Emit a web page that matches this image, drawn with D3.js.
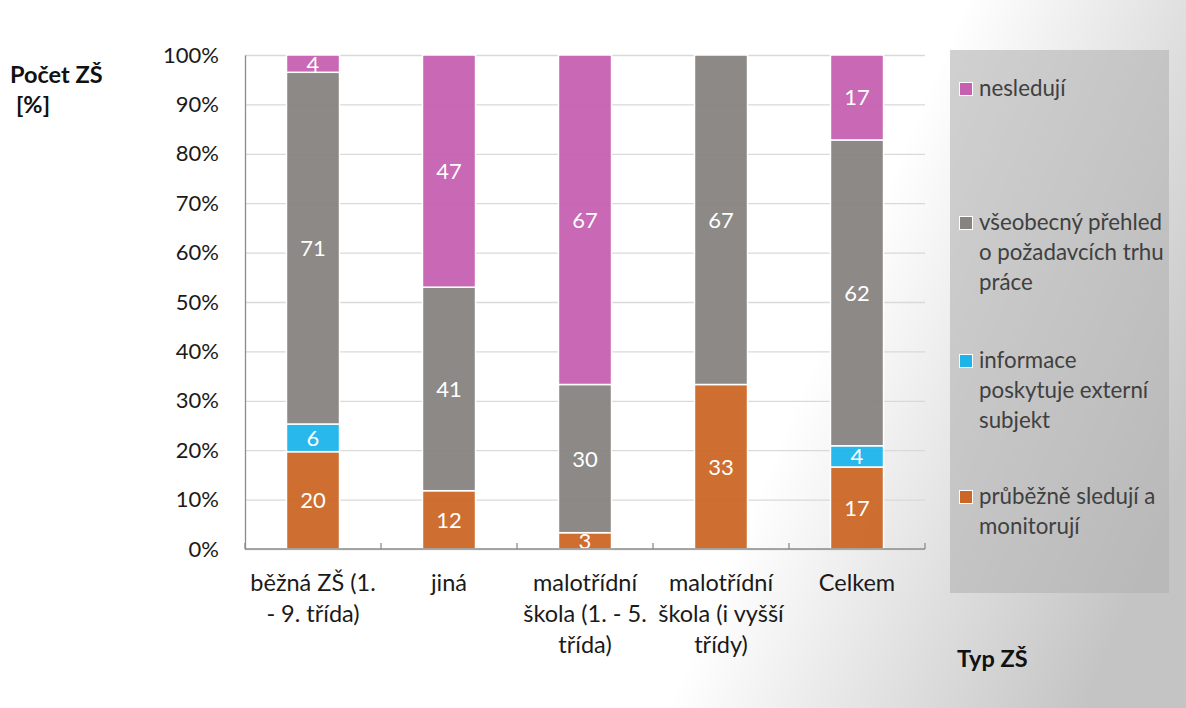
<!DOCTYPE html>
<html>
<head>
<meta charset="utf-8">
<script src="https://cdn.jsdelivr.net/npm/d3@7"></script>
<style>
  body { margin: 0; }
  svg { font-family: Lato, "Open Sans", sans-serif; }
</style>
</head>
<body>
<div id="chart-area"></div>
<script>
// categories (x axis), each label split on lines
const categories = [
    ["běžná ZŠ (1.", "- 9. třída)"],
    ["jiná"],
    ["malotřídní", "škola (1. - 5.", "třída)"],
    ["malotřídní", "škola (i vyšší", "třídy)"],
    ["Celkem"]
];
// series values in percent, one per category
const monitoruji = [19.7, 11.8, 3.3, 33.3, 16.6];
const externi = [5.6, 0, 0, 0, 4.3];
const prehled = [71.2, 41.2, 30.0, 66.7, 61.9];
const nesleduji = [3.5, 47.0, 66.7, 0, 17.2];
const legendLines = [
    ["nesledují"],
    ["všeobecný přehled", "o požadavcích trhu", "práce"],
    ["informace", "poskytuje externí", "subjekt"],
    ["průběžně sledují a", "monitorují"]
];
const yTicks = [0, 10, 20, 30, 40, 50, 60, 70, 80, 90, 100];

const W = 1186, H = 708;
const margin = { left: 245, right: 261, top: 55, bottom: 159 };
const width = W - margin.left - margin.right,
    height = H - margin.top - margin.bottom;

const svg = d3.select("#chart-area").append("svg")
    .attr("width", W).attr("height", H);

// background gradient
const defs = svg.append("defs");
const grad = defs.append("linearGradient").attr("id", "bg")
    .attr("gradientUnits", "userSpaceOnUse")
    .attr("x1", 830).attr("y1", 320).attr("x2", 1186).attr("y2", 470);
grad.append("stop").attr("offset", "0%").attr("stop-color", "#ffffff");
grad.append("stop").attr("offset", "100%").attr("stop-color", "#c4c4c4");
svg.append("rect").attr("width", W).attr("height", H).attr("fill", "url(#bg)");

const g = svg.append("g").attr("transform", `translate(${margin.left},${margin.top})`);

const x = d3.scaleBand().domain(d3.range(categories.length)).range([0, width]).paddingInner(0.61).paddingOuter(0.305);
const xb = d3.scaleBand().domain(d3.range(categories.length)).range([0, width]);
const y = d3.scaleLinear().domain([0, 100]).range([height, 0]);

// gridlines
g.append("g").attr("class", "y-grid")
    .call(d3.axisLeft(y).tickValues(yTicks).tickSize(-width).tickFormat(""))
    .call(s => s.select(".domain").remove())
    .selectAll("line").attr("stroke", "#d9d9d9").attr("stroke-width", 1.3);

// y axis
const yAxis = g.append("g")
    .call(d3.axisLeft(y).tickValues(yTicks).tickSize(0).tickPadding(26).tickFormat(d => d + "%"));
yAxis.select(".domain").attr("stroke", "#8c8c8c").attr("stroke-width", 1.3);
yAxis.selectAll("text").attr("font-size", 22).attr("fill", "#1a1a1a").attr("font-family", "Lato, sans-serif");

// stacked bars
const rows = categories.map((c, i) => ({ i, s0: monitoruji[i], s1: externi[i], s2: prehled[i], s3: nesleduji[i] }));
const stack = d3.stack().keys(["s0", "s1", "s2", "s3"])(rows);
const color = d3.scaleOrdinal().domain(["s0", "s1", "s2", "s3"]).range(["#CB6626", "#1DB4EA", "#878381", "#C660B0"]);

const layer = g.selectAll(".layer").data(stack).enter().append("g").attr("class", "layer")
    .attr("fill", d => color(d.key));
layer.selectAll("rect").data(d => d.filter(p => p[1] - p[0] > 0)).enter().append("rect")
    .attr("x", d => x(d.data.i))
    .attr("width", x.bandwidth())
    .attr("y", d => y(d[1]))
    .attr("height", d => y(d[0]) - y(d[1]))
    .attr("fill-opacity", 0.95)
    .attr("stroke", "#ffffff").attr("stroke-width", 1.5);
layer.selectAll("text").data(d => d.filter(p => p[1] - p[0] > 0)).enter().append("text")
    .attr("x", d => x(d.data.i) + x.bandwidth() / 2)
    .attr("y", d => (y(d[0]) + y(d[1])) / 2)
    .attr("dy", "0.36em")
    .attr("text-anchor", "middle")
    .attr("fill", "#fff").attr("font-size", 22)
    .text(d => Math.round(d[1] - d[0]));

// x axis line with ticks between categories
const xAxisG = g.append("g").attr("transform", `translate(0,${height})`);
xAxisG.append("line").attr("x1", 0).attr("x2", width).attr("stroke", "#8c8c8c").attr("stroke-width", 1.3);
xAxisG.selectAll(".tk").data(d3.range(categories.length + 1)).enter().append("line")
    .attr("x1", d => d * xb.step()).attr("x2", d => d * xb.step())
    .attr("y1", 0).attr("y2", -6)
    .attr("stroke", "#8c8c8c").attr("stroke-width", 1.3);

// x labels
const xl = xAxisG.selectAll(".xl").data(categories).enter().append("text")
    .attr("text-anchor", "middle").attr("font-size", 23.5).attr("fill", "#1a1a1a")
    .attr("transform", (d, i) => `translate(${x(i) + x.bandwidth() / 2},42)`);
xl.selectAll("tspan").data(d => d).enter().append("tspan")
    .attr("x", 0).attr("dy", (d, i) => i === 0 ? 0 : 31).text(d => d);

// axis titles
svg.append("text").attr("x", 10).attr("y", 83).attr("font-weight", "bold").attr("font-size", 23.5).attr("fill", "#111").text("Počet ZŠ");
svg.append("text").attr("x", 16).attr("y", 113).attr("font-weight", "bold").attr("font-size", 23.5).attr("fill", "#111").text("[%]");
svg.append("text").attr("x", 957).attr("y", 667).attr("font-weight", "bold").attr("font-size", 23.5).attr("fill", "#111").text("Typ ZŠ");

// legend
const lg = svg.append("g").attr("transform", "translate(950,50)");
lg.append("rect").attr("width", 219).attr("height", 543).attr("fill", "#b2b2b2").attr("fill-opacity", 0.6);
const legendKeys = ["s3", "s2", "s1", "s0"];
const legendY = [39, 173, 311, 447];
const items = lg.selectAll(".li").data(legendKeys).enter().append("g")
    .attr("transform", (d, i) => `translate(0,${legendY[i]})`);
items.append("rect").attr("x", 9.5).attr("y", -6.5).attr("width", 13).attr("height", 13)
    .attr("fill", d => color(d)).attr("stroke", "#fff").attr("stroke-width", 1);
items.append("text").attr("font-size", 22.3).attr("fill", "#404040")
    .attr("y", 7)
    .selectAll("tspan").data((d, i) => legendLines[i]).enter().append("tspan")
    .attr("x", 29).attr("dy", (d, i) => i === 0 ? 0 : 30).text(d => d);
</script>
</body>
</html>
